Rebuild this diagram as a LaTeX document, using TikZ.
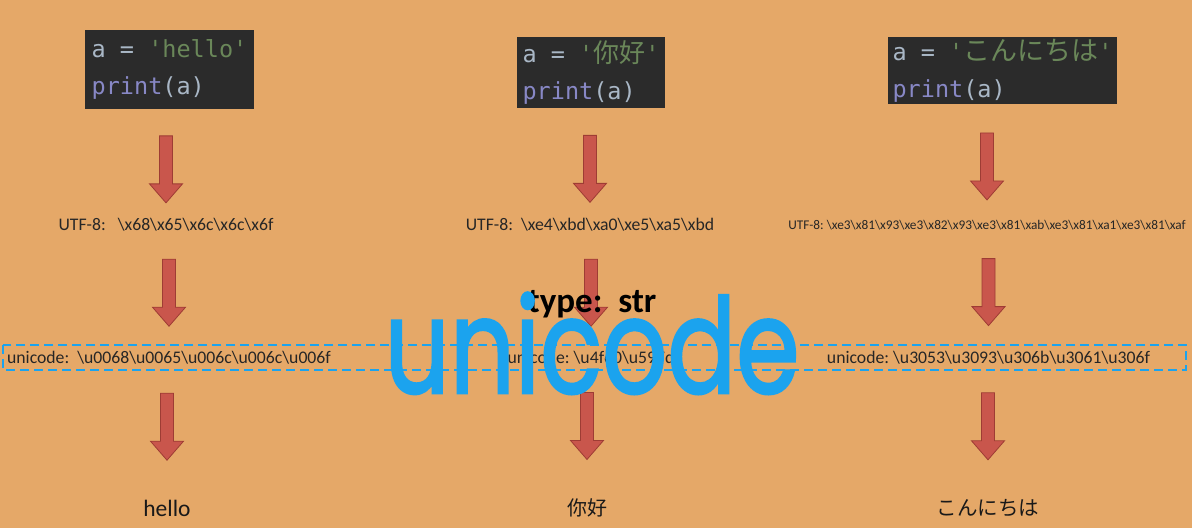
\documentclass[tikz,border=0pt]{standalone}
\usepackage{fontspec}
\usepackage{graphicx}
\setmainfont{Carlito}
\setmonofont{DejaVu Sans Mono}
\newfontfamily\cjk{Noto Sans CJK SC}
\newfontfamily\handfont[FakeBold=2]{Poppins}
\usetikzlibrary{calc}
\definecolor{Wood}{RGB}{229,168,104}
\definecolor{CodeBg}{RGB}{43,43,43}
\definecolor{CodeVar}{RGB}{169,183,198}
\definecolor{CodeStr}{RGB}{106,135,89}
\definecolor{CodeFn}{RGB}{136,136,198}
\definecolor{Arrow}{RGB}{201,86,76}
\definecolor{ArrowLine}{RGB}{158,60,52}
\definecolor{Uni}{RGB}{27,163,238}

\newcommand{\bs}{\textbackslash}
\newcommand{\printa}{\textcolor{CodeFn}{print}\textcolor{CodeVar}{(a)}}
% red block arrow, centred between two nodes, optional shift downwards
\newcommand{\downblock}[3][0]{%
  \path[blockarrow] let \p1=($(#2.south -| #3.north)!.5!(#3.north)$) in
    (\x1-6.5pt,\y1+33.5pt-#1pt) -- (\x1+6.5pt,\y1+33.5pt-#1pt) -- (\x1+6.5pt,\y1-14.5pt-#1pt)
    -- (\x1+16.5pt,\y1-14.5pt-#1pt) -- (\x1,\y1-33.5pt-#1pt) -- (\x1-16.5pt,\y1-14.5pt-#1pt)
    -- (\x1-6.5pt,\y1-14.5pt-#1pt) -- cycle;}

\tikzset{
  codebox/.style={fill=CodeBg, inner xsep=0pt, inner ysep=2pt, align=left,
    font=\ttfamily\fontsize{23.5}{37}\selectfont},
  row/.style={inner sep=0pt, anchor=base, text=black!85, font=\fontsize{17.7}{21}\selectfont},
  outtext/.style={inner sep=0pt, anchor=base, text=black!90, font=\fontsize{23.5}{28}\selectfont},
  blockarrow/.style={fill=Arrow, draw=ArrowLine, line width=0.8pt, line join=miter},
  unibox/.style={draw=Uni, line width=2.5pt, dash pattern=on 9pt off 5pt}
}

\begin{document}
\begin{tikzpicture}[x=1pt, y=-1pt]
  % background
  \fill[Wood] (0,0) rectangle (1192,528);

  % code
  \node[codebox, minimum width=169pt, minimum height=79pt] (codehello) at (169.5,69.5)
    {\textcolor{CodeVar}{a = }\textcolor{CodeStr}{'hello'}\\\printa};
  \node[codebox, minimum width=148pt, minimum height=71pt] (codenihao) at (591,72.5)
    {\textcolor{CodeVar}{a = }\textcolor{CodeStr}{'{\cjk\fontsize{26}{37}\selectfont 你好}'}\\\printa};
  \node[codebox, minimum width=229pt, minimum height=65pt] (codekonnichiwa) at (1002.5,70.5)
    {\textcolor{CodeVar}{a = }\textcolor{CodeStr}{'{\cjk\fontsize{27}{37}\selectfont こんにちは}'}\\\printa};

  % UTF-8
  \node[row] (utfhello) at (166,230) {UTF-8:\ \ \ \bs x68\bs x65\bs x6c\bs x6c\bs x6f};
  \node[row] (utfnihao) at (590,230) {UTF-8:\ \ \bs xe4\bs xbd\bs xa0\bs xe5\bs xa5\bs xbd};
  \node[row, font=\fontsize{13.3}{16}\selectfont] (utfkonnichiwa) at (987,229)
    {UTF-8:\ \bs xe3\bs x81\bs x93\bs xe3\bs x82\bs x93\bs xe3\bs x81\bs xab\bs xe3\bs x81\bs xa1\bs xe3\bs x81\bs xaf};

  % unicode
  \draw[unibox] (3,345) rectangle (1186,370);
  \node[row] (unihello) at (169,363) {unicode:\ \ \bs u0068\bs u0065\bs u006c\bs u006c\bs u006f};
  \node[row] (uninihao) at (591,363) {unicode:\ \bs u4f60\bs u597d};
  \node[row] (unikonnichiwa) at (988.5,363) {unicode:\ \bs u3053\bs u3093\bs u306b\bs u3061\bs u306f};

  % output
  \node[outtext] (outhello) at (167,516) {hello};
  \node[outtext, font=\cjk\fontsize{20}{24}\selectfont] (outnihao) at (587,515) {你好};
  \node[outtext, font=\cjk\fontsize{20.5}{24}\selectfont] (outkonnichiwa) at (988,515) {こんにちは};

  % arrows
  \downblock[6]{codehello}{utfhello}
  \downblock[6]{codenihao}{utfnihao}
  \downblock[4.5]{codekonnichiwa}{utfkonnichiwa}
  \downblock[2]{utfhello}{unihello}
  \downblock[2]{utfnihao}{uninihao}
  \downblock[2]{utfkonnichiwa}{unikonnichiwa}
  \downblock[-5]{unihello}{outhello}
  \downblock[-5]{uninihao}{outnihao}
  \downblock[-5]{unikonnichiwa}{outkonnichiwa}

  % overlay
  \node[inner sep=0pt, anchor=base, font=\bfseries\fontsize{35}{40}\selectfont] (typestr) at (592,312) {type:\ \ str};
  \node[inner sep=0pt, anchor=base, text=Uni, font=\handfont\fontsize{132}{140}\selectfont] (bigunicode) at (592,393)
    {\resizebox{415pt}{\height}{unicode}};
\end{tikzpicture}
\end{document}
